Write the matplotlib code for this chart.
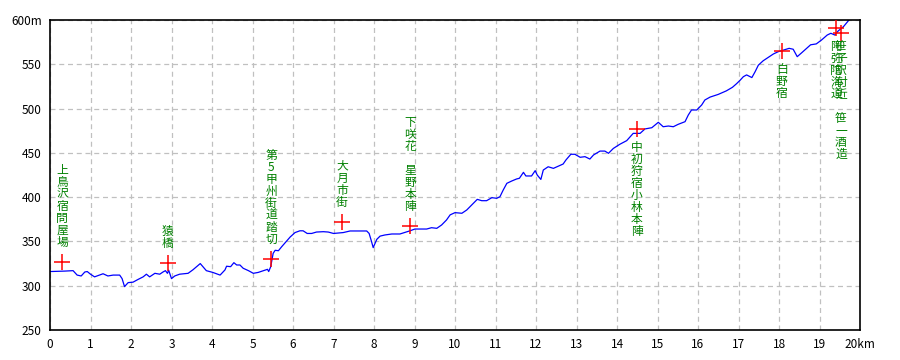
import matplotlib
matplotlib.use("Agg")
import matplotlib.pyplot as plt

plt.rcParams['font.family'] = ['Noto Sans CJK JP', 'DejaVu Sans']

# elevation profile (km, m)
dist_km = [0.0, 0.36, 0.57, 0.61, 0.67, 0.77, 0.86, 0.92, 1.00, 1.10, 1.19, 1.31, 1.43,
           1.56, 1.72, 1.78, 1.84, 1.93, 2.05, 2.17, 2.30, 2.38, 2.46, 2.59, 2.71, 2.79,
           2.85, 2.90, 2.93, 3.00, 3.08, 3.20, 3.41, 3.53, 3.71, 3.86, 4.02, 4.20, 4.32,
           4.36, 4.46, 4.54, 4.61, 4.69, 4.77, 4.90, 5.02, 5.14, 5.27, 5.37, 5.40, 5.45,
           5.51, 5.56, 5.64, 5.72, 5.83, 5.93, 6.05, 6.17, 6.25, 6.35, 6.46, 6.58, 6.75,
           6.87, 7.00, 7.24, 7.41, 7.57, 7.82, 7.88, 7.94, 7.98, 8.07, 8.15, 8.27, 8.44,
           8.64, 8.89, 9.01, 9.14, 9.30, 9.42, 9.55, 9.67, 9.79, 9.88, 10.00, 10.17,
           10.29, 10.41, 10.55, 10.66, 10.78, 10.91, 11.03, 11.11, 11.19, 11.28, 11.40,
           11.52, 11.59, 11.69, 11.75, 11.89, 11.98, 12.03, 12.12, 12.18, 12.30, 12.43,
           12.55, 12.67, 12.74, 12.86, 12.96, 13.09, 13.21, 13.33, 13.42, 13.58, 13.70,
           13.79, 13.91, 14.07, 14.24, 14.40, 14.57, 14.69, 14.86, 15.02, 15.14, 15.27,
           15.39, 15.51, 15.68, 15.76, 15.84, 15.97, 16.09, 16.17, 16.30, 16.50, 16.70,
           16.85, 16.95, 17.04, 17.12, 17.20, 17.33, 17.41, 17.49, 17.61, 17.74, 17.86,
           17.98, 18.11, 18.25, 18.35, 18.45, 18.56, 18.68, 18.78, 18.92, 19.05, 19.19,
           19.28, 19.38, 19.46, 19.59, 19.71, 19.76]
elev_m = [316, 316.5, 317, 315, 312, 311, 315.5, 316, 313, 310, 311.5, 313.5, 311,
          312, 312, 308, 299, 303.5, 304, 307, 310, 313, 310, 314, 313, 315.5,
          317, 314, 317.5, 308, 311, 313, 314, 318, 325, 317, 315, 312, 317.8,
          322, 321.5, 326, 323.4, 323.4, 319.7, 317, 314, 315, 317, 318.5, 316, 321.5,
          336.6, 340, 339.5, 344, 349.7, 355, 360, 362, 362, 359, 359, 360.6, 361,
          360.6, 359, 360, 361.8, 361.8, 361.8, 359, 349.7, 343, 352.4, 356, 357.3, 358.4,
          358.4, 362, 364, 364, 364, 365.5, 364.8, 368.6, 374.2, 380, 382.5, 381.8,
          385.5, 391, 397.5, 396, 396, 399.4, 398.7, 400.5, 408, 415.6, 418.2,
          420.5, 421.3, 428, 423.9, 423.9, 429.9, 425, 420, 430.6, 434.3, 432.5,
          435, 437.4, 442, 448.4, 448.4, 445, 445.7, 443, 447.6, 452, 452,
          449.5, 455, 459.7, 463.8, 472, 472, 477, 478.4, 484.5, 479.5, 480.3,
          479.5, 482.2, 485.2, 492.7, 498.4, 498.4, 504, 509.7, 513, 516, 520,
          524, 528, 532, 536, 538, 535, 541.6, 549, 554, 558, 561.6,
          564.2, 566, 568, 567, 558.6, 563, 568, 572, 573, 577.4, 583,
          585, 583, 587.6, 592.4, 599, 602]

# points along the road
spot_names = ['上鳥沢宿問屋場', '猿橋', '第5甲州街道踏切', '大月市街', '下咲花　星野本陣',
              '中初狩宿小林本陣', '白野宿', '阿弥陀海道', '笹子駅付近　笹一酒造']
spot_km = [0.30, 2.91, 5.46, 7.21, 8.89, 14.49, 18.07, 19.41, 19.53]
spot_elev = [327, 326, 330, 372, 367, 477, 565, 591, 585]
spot_above = [True, True, True, True, True, False, False, False, False]

x_ticks = list(range(0, 21))
x_labels = [str(v) for v in range(0, 20)] + ['20km']
y_ticks = [250, 300, 350, 400, 450, 500, 550, 600]
y_labels = ['250', '300', '350', '400', '450', '500', '550', '600m']

fig = plt.figure(figsize=(9, 3.6), dpi=100)
ax = fig.add_axes([50 / 900, 30 / 360, 810 / 900, 310 / 360])

ax.plot(dist_km, elev_m, color='#0000ff', linewidth=0.9)
ax.plot(spot_km, spot_elev, linestyle='none', marker='+', markersize=11,
        markeredgewidth=1.1, color='#ff0000', zorder=3)

for name, km, el, above in zip(spot_names, spot_km, spot_elev, spot_above):
    txt = '\n'.join(name)
    if above:
        dy, va = 13, 'bottom'
    else:
        dy, va = -12, 'top'
        if name.startswith('笹子'):
            dy = -7
    ax.annotate(txt, (km, el), xytext=(0, dy), textcoords='offset pixels',
                ha='center', va=va, color='#008000', fontsize=8.5,
                linespacing=0.9)

ax.set_xlim(0, 20)
ax.set_ylim(250, 600)
ax.set_xticks(x_ticks)
ax.set_xticklabels(x_labels)
ax.set_yticks(y_ticks)
ax.set_yticklabels(y_labels)
ax.tick_params(length=0, labelsize=8.5, pad=6)
ax.grid(True, color='#c0c0c0', linestyle=(0, (4, 3)), linewidth=0.9)
for s in ax.spines.values():
    s.set_color('black')
    s.set_linewidth(1.2)

fig.savefig('out.png', dpi=100, facecolor='white')
